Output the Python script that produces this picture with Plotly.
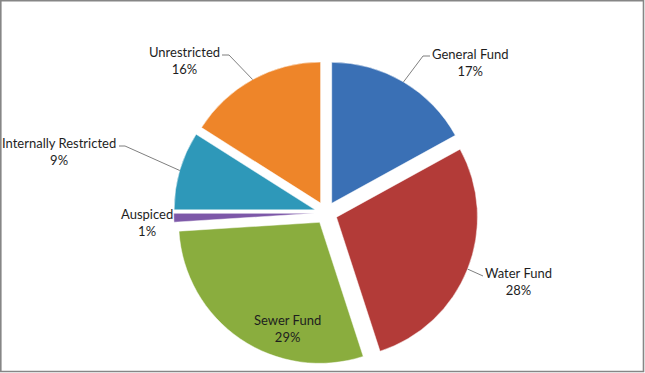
import math
import plotly.graph_objects as go

# ---- data ----
labels = ["General Fund", "Water Fund", "Sewer Fund", "Auspiced",
          "Internally Restricted", "Unrestricted"]
values = [17, 28, 29, 1, 9, 16]

# ---- style ----
colors = ["#3a70b5", "#b33b38", "#8aad3e", "#7d58a8", "#2e98b9", "#ee8529"]
W, H = 645, 373
CX, CY, R, PULL = 326, 213, 141, 0.08          # pie centre / radius (px)
FONT = "Lato"

# label block centres (px) and leader stubs (text end x, elbow x, y)
lab_pos = [(470, 62), (518, 281.5), (287, 328.5), (147, 223), (59, 151), (184, 60.5)]
leader = [(430, 423, 56), (483, 483, 276), None, None, (119, 125, 146), (222, 229, 55)]


def px(x, y):
    return x / W, 1 - y / H


half = R * (1 + PULL)
dom_x = [(CX - half) / W, (CX + half) / W]
dom_y = [1 - (CY + half) / H, 1 - (CY - half) / H]

fig = go.Figure(go.Pie(
    labels=labels, values=values, sort=False, direction="clockwise",
    rotation=0, pull=[PULL] * len(values), textinfo="none",
    marker=dict(colors=colors, line=dict(color="rgba(255,255,255,0.6)", width=0.8)),
    domain=dict(x=dom_x, y=dom_y), showlegend=False,
    hoverinfo="label+percent",
))

total = sum(values)
annotations = []
shapes = []
cum = 0
for i, (lab, v) in enumerate(zip(labels, values)):
    mid = (cum + v / 2) / total * 2 * math.pi
    cum += v
    lx, ly = lab_pos[i]
    x, y = px(lx, ly)
    annotations.append(dict(
        x=x, y=y, xref="paper", yref="paper", xanchor="center", yanchor="middle",
        text=f"{lab}<br>{v / total * 100:.0f}%", showarrow=False,
        font=dict(family=FONT, size=13, color="#1e1e1e"),
    ))
    if leader[i] is not None:
        tx, ex, sy = leader[i]
        ax = CX + R * (1 + PULL) * math.sin(mid)
        ay = CY - R * (1 + PULL) * math.cos(mid)
        p = [px(tx, sy), px(ex, sy), px(ax, ay)]
        path = "M {} {} L {} {} L {} {}".format(p[0][0], p[0][1], p[1][0], p[1][1], p[2][0], p[2][1])
        shapes.append(dict(type="path", xref="paper", yref="paper", path=path,
                           line=dict(color="#7f7f7f", width=1)))

# outer frame
shapes.append(dict(type="rect", xref="paper", yref="paper",
                   x0=0.8 / W, x1=1 - 1.5 / W, y0=1.5 / H, y1=1 - 0.8 / H,
                   line=dict(color="#868686", width=1.6)))

fig.update_layout(
    width=W, height=H, margin=dict(l=0, r=0, t=0, b=0),
    paper_bgcolor="white", plot_bgcolor="white",
    annotations=annotations, shapes=shapes,
)
fig.write_html("out.html")
